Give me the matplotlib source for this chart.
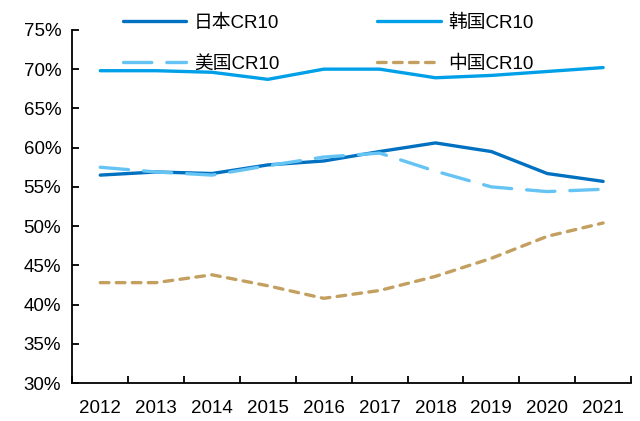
import matplotlib
matplotlib.use("Agg")
import matplotlib.pyplot as plt
from matplotlib.ticker import FuncFormatter, FixedLocator

plt.rcParams['font.family'] = ['Liberation Sans', 'Noto Sans CJK SC']

years = ['2012', '2013', '2014', '2015', '2016', '2017', '2018', '2019', '2020', '2021']
japan = [56.5, 56.9, 56.7, 57.8, 58.3, 59.5, 60.6, 59.5, 56.7, 55.7]
korea = [69.8, 69.8, 69.6, 68.7, 70.0, 70.0, 68.9, 69.2, 69.7, 70.2]
usa = [57.5, 56.9, 56.5, 57.7, 58.8, 59.3, 57.0, 55.0, 54.4, 54.7]
china = [42.8, 42.8, 43.8, 42.4, 40.8, 41.8, 43.6, 45.9, 48.7, 50.4]

fig = plt.figure(figsize=(6.4, 4.21), dpi=100)
ax = fig.add_axes([0.113, 0.090, 0.873, 0.839])

x = range(len(years))
l1, = ax.plot(x, japan, color='#0070C0', lw=2.4, solid_capstyle='round', label='日本CR10')
l3, = ax.plot(x, korea, color='#00A0E9', lw=2.4, solid_capstyle='round', label='韩国CR10')
l2, = ax.plot(x, usa, color='#66C4F4', lw=2.4, dashes=(8.5, 4.5), dash_capstyle='round', label='美国CR10')
l4, = ax.plot(x, china, color='#C3A060', lw=2.4, dashes=(2.6, 2.2), dash_capstyle='round', label='中国CR10')

ax.set_xlim(-0.5, 9.5)
ax.set_ylim(30, 75)
ax.set_yticks(range(30, 76, 5))
ax.yaxis.set_major_formatter(FuncFormatter(lambda v, p: f"{v:.0f}%"))
ax.set_xticks(list(x))
ax.set_xticklabels(years)
ax.xaxis.set_minor_locator(FixedLocator([i - 0.5 for i in range(11)]))
ax.tick_params(axis='x', which='major', length=0, pad=12, labelsize=13.5, colors='black')
ax.tick_params(axis='x', which='minor', length=5, direction='in', width=1.3)
ax.tick_params(axis='y', direction='in', length=5, width=1.3, labelsize=13.5, pad=8)
for s in ['top', 'right']:
    ax.spines[s].set_visible(False)
for s in ['left', 'bottom']:
    ax.spines[s].set_linewidth(1.3)

fig.legend(handles=[l1, l2, l3, l4], ncol=2, frameon=False, fontsize=13.5,
           loc='upper left', bbox_to_anchor=(0.18, 0.983), handlelength=3.4,
           columnspacing=5.2, labelspacing=1.25, handletextpad=0.4,
           borderaxespad=0)

fig.savefig('out.png', dpi=100)
